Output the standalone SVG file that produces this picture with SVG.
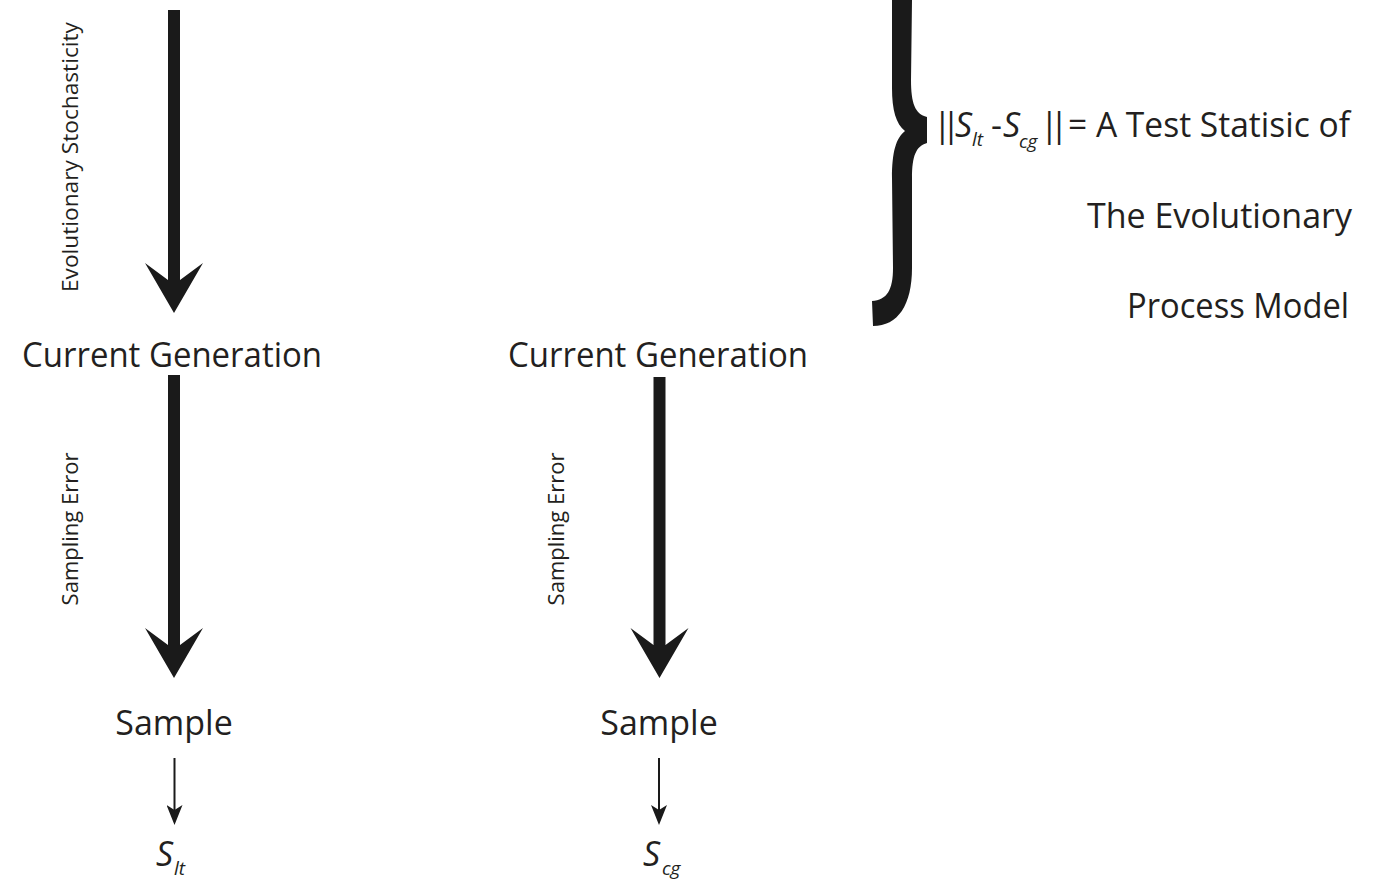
<svg xmlns="http://www.w3.org/2000/svg" width="1373" height="882" viewBox="0 0 1373 882">
  <style>
    .t { font-family: "Open Sans", "Noto Sans", "Liberation Sans", sans-serif; fill: #231f20; }
    .big { font-size: 34px; }
    .lab { font-size: 22px; }
    .it { font-style: italic; }
    .sub { font-size: 19px; font-style: italic; }
    .shaft { stroke: #1a1a1a; stroke-width: 12; fill: none; }
    .thin { stroke: #1a1a1a; stroke-width: 2; fill: none; }
  </style>
  <defs>
    <marker id="bigHead" markerUnits="userSpaceOnUse" viewBox="0 0 60 60" markerWidth="60" markerHeight="60" refX="35" refY="30" orient="auto">
      <path d="M60,30 L10,1 L27,24 L27,36 L10,59 Z" fill="#1a1a1a"/>
    </marker>
    <marker id="smallHead" markerUnits="userSpaceOnUse" viewBox="0 0 20 16" markerWidth="20" markerHeight="16" refX="10" refY="8" orient="auto">
      <path d="M20,8 L0,0 L5,8 L0,16 Z" fill="#1a1a1a"/>
    </marker>
  </defs>
  <rect width="1373" height="882" fill="#ffffff"/>

  <g id="connectors">
    <line class="shaft" x1="174" y1="10" x2="174" y2="288" marker-end="url(#bigHead)"/>
    <line class="shaft" x1="174" y1="375" x2="174" y2="653" marker-end="url(#bigHead)"/>
    <line class="shaft" x1="659.5" y1="377" x2="659.5" y2="653" marker-end="url(#bigHead)"/>
    <line class="thin" x1="174.5" y1="758" x2="174.5" y2="815" marker-end="url(#smallHead)"/>
    <line class="thin" x1="659" y1="758" x2="659" y2="815" marker-end="url(#smallHead)"/>
    <text class="t lab" transform="translate(78,157) rotate(-90)" text-anchor="middle" textLength="270" lengthAdjust="spacingAndGlyphs">Evolutionary Stochasticity</text>
    <text class="t lab" transform="translate(78,529) rotate(-90)" text-anchor="middle">Sampling Error</text>
    <text class="t lab" transform="translate(564,529) rotate(-90)" text-anchor="middle">Sampling Error</text>
  </g>

  <g id="cg-left">
    <text class="t big" x="172" y="367" text-anchor="middle" textLength="300" lengthAdjust="spacingAndGlyphs">Current Generation</text>
  </g>
  <g id="cg-middle">
    <text class="t big" x="658" y="367" text-anchor="middle" textLength="300" lengthAdjust="spacingAndGlyphs">Current Generation</text>
  </g>
  <g id="sample-left">
    <text class="t big" x="174" y="735" text-anchor="middle">Sample</text>
  </g>
  <g id="sample-middle">
    <text class="t big" x="659" y="735" text-anchor="middle">Sample</text>
  </g>
  <g id="s-lt">
    <text class="t big" y="866"><tspan class="it" x="156">S</tspan><tspan class="sub" x="174" dy="9">lt</tspan></text>
  </g>
  <g id="s-cg">
    <text class="t big" y="866"><tspan class="it" x="643">S</tspan><tspan class="sub" x="662" dy="9">cg</tspan></text>
  </g>

  <g id="brace">
    <path fill="#1a1a1a" d="M892,0 L912,0 L911,80 C911,103 915,114 927,117 L927,143 C916,146 912,156 912,178 L912,268 C912,305 898,326 873,326 L872,301 C887,300 893,290 893,268 L892,178 C892,152 896,138 905,131 C896,124 892,110 892,88 Z"/>
  </g>

  <g id="statistic">
    <text class="t big" y="137"><tspan x="933" letter-spacing="-10">||</tspan><tspan class="it" x="955">S</tspan><tspan class="sub" x="972" dy="9">lt</tspan><tspan x="991" dy="-9">-</tspan><tspan class="it" x="1003">S</tspan><tspan class="sub" x="1019" dy="11">cg</tspan><tspan x="1040" dy="-11" letter-spacing="-9">||</tspan><tspan x="1068" textLength="282" lengthAdjust="spacingAndGlyphs">= A Test Statisic of</tspan></text>
    <text class="t big" x="1352" y="228" text-anchor="end">The Evolutionary</text>
    <text class="t big" x="1349" y="318" text-anchor="end" textLength="222" lengthAdjust="spacingAndGlyphs">Process Model</text>
  </g>
</svg>
